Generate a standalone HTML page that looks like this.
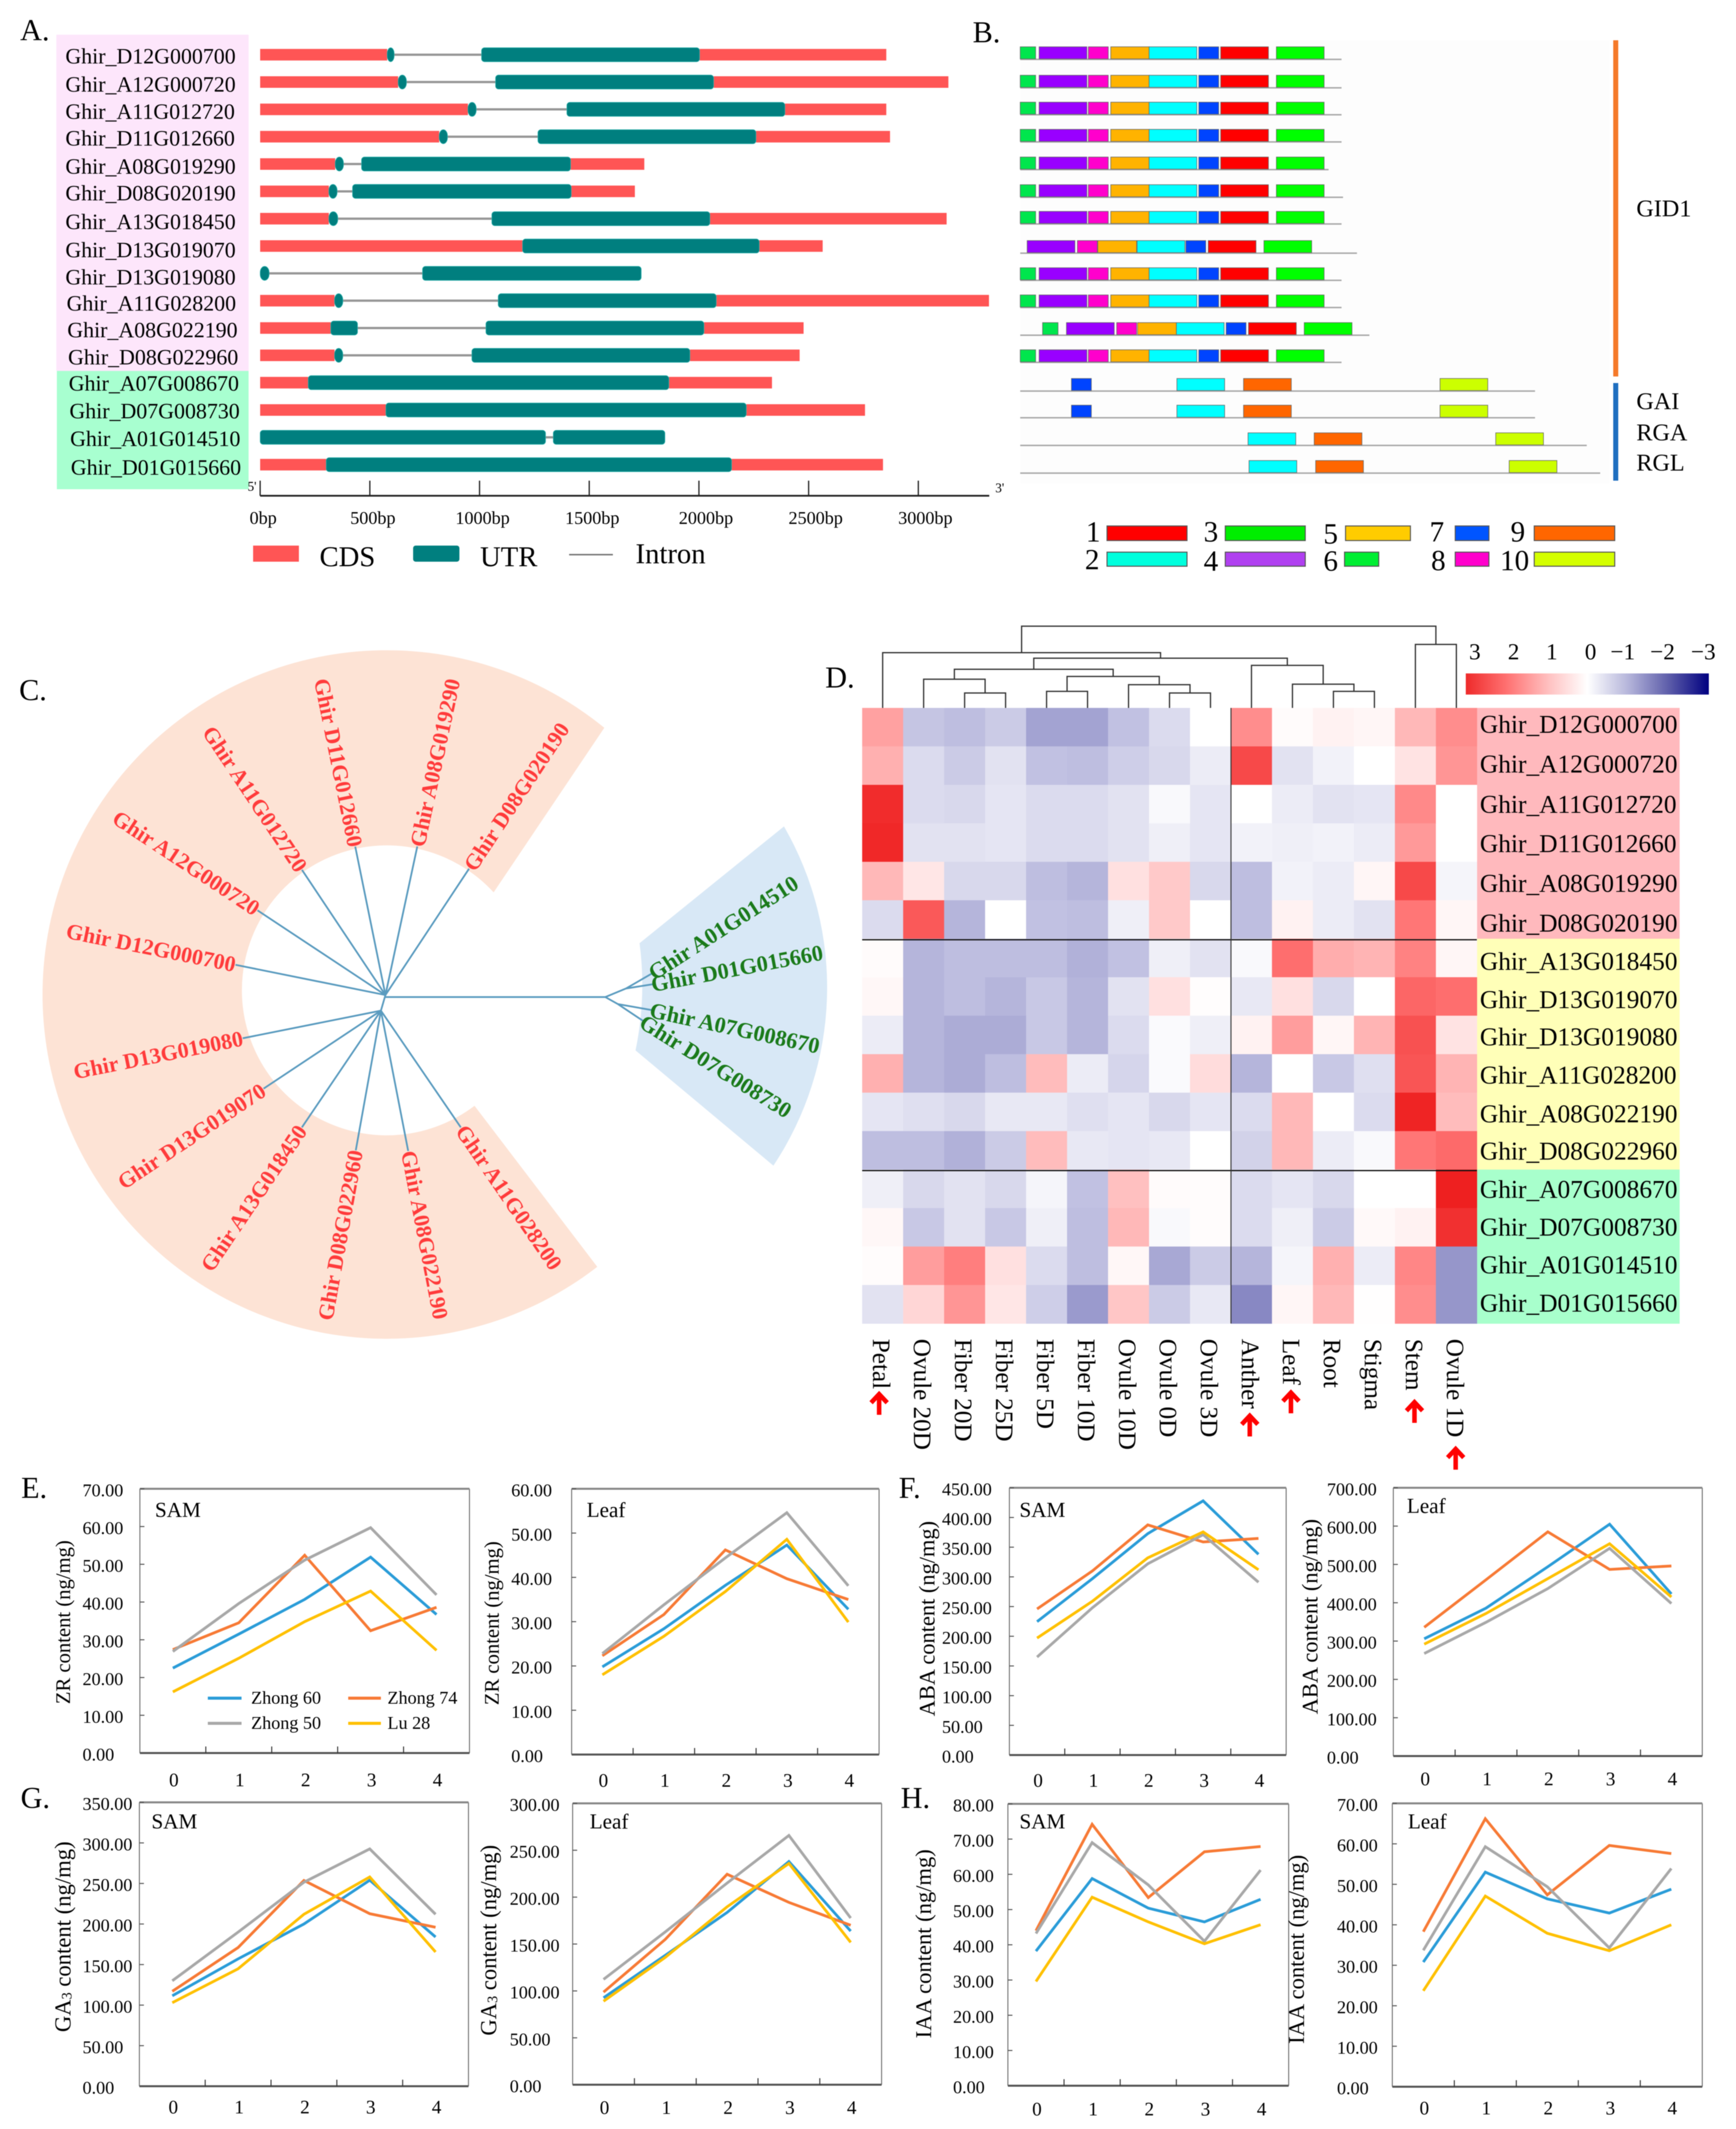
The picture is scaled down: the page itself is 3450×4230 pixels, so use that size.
<!DOCTYPE html>
<html lang="en">
<head>
<meta charset="utf-8">
<title>Gene family figure panels A-H</title>
<style>
html,body{margin:0;padding:0;background:#fff}
svg{display:block;font-family:"Liberation Serif","DejaVu Serif",serif;filter:blur(0.8px)}
</style>
</head>
<body>
<svg id="figure" xmlns="http://www.w3.org/2000/svg" width="3450" height="4230" viewBox="0 0 3450 4230">
  <rect x="0" y="0" width="3450" height="4230" fill="#ffffff"/>

  <text x="40" y="80" font-size="60">A.</text>
  <text x="1933" y="84" font-size="60">B.</text>
  <text x="38" y="1391" font-size="60">C.</text>
  <text x="1640" y="1366" font-size="60">D.</text>
  <text x="42" y="2976" font-size="60">E.</text>
  <text x="1786" y="2976" font-size="60">F.</text>
  <text x="41" y="3592" font-size="60">G.</text>
  <text x="1790" y="3592" font-size="60">H.</text>

  <rect x="112" y="69" width="382" height="668" fill="#fde6fb"/>
  <rect x="113" y="737" width="381" height="235" fill="#a8ffd0"/>
  <g id="panelA"></g>

  <line x1="517" y1="985" x2="1966" y2="985" stroke="#222" stroke-width="3.5"/>
  <text x="492" y="975" font-size="26">5'</text>
  <text x="1978" y="978" font-size="26">3'</text>
  <rect x="503" y="1084" width="91" height="32" fill="#ff5555"/>
  <text x="635" y="1125" font-size="57">CDS</text>
  <rect x="821" y="1084" width="92" height="32" rx="5" fill="#007f7f"/>
  <text x="954" y="1125" font-size="57">UTR</text>
  <line x1="1131" y1="1102" x2="1218" y2="1102" stroke="#777" stroke-width="3"/>
  <text x="1263" y="1119" font-size="57">Intron</text>

  <rect x="2028" y="80" width="1170" height="880" fill="#fdfdfd"/>
  <g id="panelB"></g>
  <rect x="3206" y="80" width="10" height="668" fill="#f57a2a"/>
  <rect x="3206" y="761" width="10" height="194" fill="#1f6fc0"/>
  <text x="3252" y="430" font-size="48">GID1</text>
  <text x="3252" y="813" font-size="48">GAI</text>
  <text x="3252" y="875" font-size="48">RGA</text>
  <text x="3252" y="935" font-size="48">RGL</text>

  <g id="motifLegend">
    <text x="2158" y="1076" font-size="58">1</text>
    <rect x="2200" y="1045" width="159" height="29" fill="#ff0000" stroke="#555" stroke-width="2"/>
    <text x="2156" y="1131" font-size="58">2</text>
    <rect x="2200" y="1097" width="159" height="28" fill="#00ffdd" stroke="#555" stroke-width="2"/>
    <text x="2392" y="1076" font-size="58">3</text>
    <rect x="2435" y="1045" width="159" height="29" fill="#00ee00" stroke="#555" stroke-width="2"/>
    <text x="2392" y="1134" font-size="58">4</text>
    <rect x="2435" y="1097" width="159" height="28" fill="#b040f0" stroke="#555" stroke-width="2"/>
    <text x="2630" y="1080" font-size="58">5</text>
    <rect x="2674" y="1045" width="129" height="29" fill="#ffcc00" stroke="#555" stroke-width="2"/>
    <text x="2630" y="1134" font-size="58">6</text>
    <rect x="2672" y="1097" width="68" height="28" fill="#00ee33" stroke="#555" stroke-width="2"/>
    <text x="2841" y="1076" font-size="58">7</text>
    <rect x="2892" y="1045" width="67" height="29" fill="#0055ff" stroke="#555" stroke-width="2"/>
    <text x="2844" y="1133" font-size="58">8</text>
    <rect x="2892" y="1097" width="67" height="28" fill="#ff00cc" stroke="#555" stroke-width="2"/>
    <text x="3002" y="1076" font-size="58">9</text>
    <rect x="3049" y="1045" width="160" height="29" fill="#ff6600" stroke="#555" stroke-width="2"/>
    <text x="2981" y="1133" font-size="58">10</text>
    <rect x="3049" y="1097" width="160" height="28" fill="#d4ff00" stroke="#555" stroke-width="2"/>
  </g>

  <path d="M1201 1446 A684 684 0 1 0 1187 2517 L943 2197 A288 288 0 0 1 481 1980 A288 288 0 0 1 981 1773 Z" fill="#fde3d5"/>
  <path d="M1558 1642 A640 640 0 0 1 1537 2316 L1263 2087 Q1285 1981 1271 1874 Z" fill="#d8e8f6"/>
  <g id="panelC"></g>

  <g id="panelD"></g>
  <defs>
    <linearGradient id="heatScale" x1="0" x2="1" y1="0" y2="0">
      <stop offset="0" stop-color="#ee2a2a"/>
      <stop offset="0.17" stop-color="#ff7272"/>
      <stop offset="0.34" stop-color="#ffc0c0"/>
      <stop offset="0.5" stop-color="#ffffff"/>
      <stop offset="0.67" stop-color="#b4b4da"/>
      <stop offset="0.84" stop-color="#5a5aa8"/>
      <stop offset="1" stop-color="#000080"/>
    </linearGradient>
  </defs>
  <rect x="2913" y="1338" width="483" height="42" fill="url(#heatScale)"/>
  <text x="2931" y="1310" font-size="46" text-anchor="middle">3</text>
  <text x="3008" y="1310" font-size="46" text-anchor="middle">2</text>
  <text x="3084" y="1310" font-size="46" text-anchor="middle">1</text>
  <text x="3161" y="1310" font-size="46" text-anchor="middle">0</text>
  <text x="3225" y="1310" font-size="46" text-anchor="middle">−1</text>
  <text x="3304" y="1310" font-size="46" text-anchor="middle">−2</text>
  <text x="3385" y="1310" font-size="46" text-anchor="middle">−3</text>

  <g id="panelCharts"></g>

  <g>
    <line x1="413" y1="3374" x2="480" y2="3374" stroke="#2a9cd8" stroke-width="6"/>
    <text x="499" y="3385" font-size="36">Zhong 60</text>
    <line x1="692" y1="3374" x2="757" y2="3374" stroke="#f77a35" stroke-width="6"/>
    <text x="770" y="3385" font-size="36">Zhong 74</text>
    <line x1="413" y1="3424" x2="480" y2="3424" stroke="#a8a8a8" stroke-width="6"/>
    <text x="499" y="3435" font-size="36">Zhong 50</text>
    <line x1="692" y1="3424" x2="757" y2="3424" stroke="#ffc000" stroke-width="6"/>
    <text x="770" y="3435" font-size="36">Lu 28</text>
  </g>
</svg>

<script>
/* ---------- Panel A data: gene structures in base pairs ---------- */
const geneNames = ['Ghir_D12G000700','Ghir_A12G000720','Ghir_A11G012720','Ghir_D11G012660','Ghir_A08G019290','Ghir_D08G020190','Ghir_A13G018450','Ghir_D13G019070','Ghir_D13G019080','Ghir_A11G028200','Ghir_A08G022190','Ghir_D08G022960','Ghir_A07G008670','Ghir_D07G008730','Ghir_A01G014510','Ghir_D01G015660'];
const cdsSpans = [[[0,579],[2003,2854]],[[0,629],[2067,3137]],[[0,947],[2392,2854]],[[0,816],[2260,2871]],[[0,342],[1415,1751]],[[0,313],[1418,1708]],[[0,313],[2050,3129]],[[0,1196],[2275,2564]],[],[[0,339],[2079,3322]],[[0,322],[2023,2477]],[[0,339],[1959,2459]],[[0,219],[1863,2333]],[[0,573],[2216,2757]],[],[[0,301],[2149,2839]]];
const utrSpans = [[[579,611],[1009,2003]],[[629,667],[1073,2067]],[[947,985],[1398,2392]],[[816,854],[1266,2260]],[[342,380],[462,1415]],[[313,351],[421,1418]],[[313,354],[1056,2050]],[[1196,2275]],[[0,41],[740,1737]],[[339,377],[1085,2079]],[[322,444],[1029,2023]],[[339,377],[965,1959]],[[219,1863]],[[573,2216]],[[0,1301],[1336,1845]],[[301,2149]]];
const geneAxisTicks = [0,500,1000,1500,2000,2500,3000];

/* ---------- Panel B data: motifs in residue-like units ---------- */
const motifLengths = {1:96,2:96,3:96,4:96,5:78,6:31,7:40,8:40,9:96,10:96};
const proteinLengths = [646,646,646,646,620,649,646,677,646,646,702,646,1035,1035,1139,1166];
const motifsStandard = [[6,0],[4,38],[8,137],[5,182],[2,259],[7,359],[1,403],[3,515]];
const motifsRow8 = [[4,14],[8,115],[5,156],[2,235],[7,333],[1,378],[3,490]];
const motifsRow11 = [[6,45],[4,93],[8,194],[5,236],[2,314],[7,414],[1,459],[3,571]];
const motifsGai = [[7,103],[2,315],[9,449],[10,844]];
const motifsRga = [[2,458],[9,591],[10,956]];
const motifsRgl = [[2,460],[9,594],[10,983]];
const motifRows = [motifsStandard,motifsStandard,motifsStandard,motifsStandard,motifsStandard,motifsStandard,motifsStandard,motifsRow8,motifsStandard,motifsStandard,motifsRow11,motifsStandard,motifsGai,motifsGai,motifsRga,motifsRgl];

/* ---------- Panel C data: tree leaves (polar angle deg, branch length) ---------- */
const upperLeafNames = ['Ghir D08G020190','Ghir A08G019290','Ghir D11G012660','Ghir A11G012720','Ghir A12G000720','Ghir D12G000700'];
const upperLeafAngles = [-56.5,-77.9,-101.5,-123.7,-146.5,-168.6];
const upperLeafLengths = [301,302,301,299,305,304];
const lowerLeafNames = ['Ghir D13G019080','Ghir D13G019070','Ghir A13G018450','Ghir D08G022960','Ghir A08G022190','Ghir A11G028200'];
const lowerLeafAngles = [168.7,146.4,124.1,100.2,79,55.6];
const lowerLeafLengths = [280,280,280,282,284,281];
const greenLeafNames = ['Ghir A01G014510','Ghir D01G015660','Ghir A07G008670','Ghir D07G008730'];
const greenLeafAngles = [-30,-9,10,33.7];
const greenLeafLengths = [60,55,69,61];
const greenLabelAngles = [-32.7,-10.7,12.2,32];

/* ---------- Panel D data: heatmap z-scores ---------- */
const tissues = ['Petal','Ovule 20D','Fiber 20D','Fiber 25D','Fiber 5D','Fiber 10D','Ovule 10D','Ovule 0D','Ovule 3D','Anther','Leaf','Root','Stigma','Stem','Ovule 1D'];
const heatRows = ['Ghir_D12G000700','Ghir_A12G000720','Ghir_A11G012720','Ghir_D11G012660','Ghir_A08G019290','Ghir_D08G020190','Ghir_A13G018450','Ghir_D13G019070','Ghir_D13G019080','Ghir_A11G028200','Ghir_A08G022190','Ghir_D08G022960','Ghir_A07G008670','Ghir_D07G008730','Ghir_A01G014510','Ghir_D01G015660'];
const heatValues = [
[1.4,-.9,-1,-.8,-1.3,-1.3,-.95,-.55,0,1.65,.07,.2,.15,1.1,1.65],
[1.2,-.55,-.8,-.45,-.95,-1,-.75,-.6,-.3,2.5,-.45,-.2,0,.45,1.55],
[2.85,-.55,-.6,-.4,-.55,-.55,-.45,-.1,-.4,0,-.3,-.45,-.4,1.7,0],
[2.9,-.45,-.45,-.4,-.55,-.55,-.45,-.25,-.4,-.2,-.25,-.2,-.3,1.5,0],
[1.1,.4,-.6,-.6,-1,-1.1,.5,.85,-.6,-1,-.2,-.3,.15,2.5,-.15],
[-.55,2.3,-1.1,0,-.95,-1,-.25,.85,0,-1,.2,-.3,-.45,1.95,.15],
[.07,-1.1,-1,-1,-1,-1.15,-.95,-.25,-.45,-.1,2.05,1.25,1.15,1.8,.15],
[.12,-1.1,-1,-1.1,-.85,-1.1,-.45,.5,.03,-.35,.5,-.6,0,2.15,2.05],
[-.3,-1.1,-1.2,-1.2,-.85,-1.1,-.55,-.07,-.25,.2,1.45,.15,1.15,2.4,.45],
[1.2,-1.1,-1.2,-1,1.05,-.3,-.65,-.07,.55,-1.1,0,-.85,-.5,2.35,1.15],
[-.4,-.5,-.6,-.35,-.35,-.5,-.4,-.6,-.4,-.55,1.1,0,-.55,2.95,1.05],
[-1,-1,-1.15,-.8,1.05,-.35,-.4,-.35,0,-.7,1.1,-.3,-.1,1.95,2.1],
[-.25,-.6,-.45,-.6,-.15,-.95,1,.06,.05,-.55,-.4,-.6,0,0,3],
[.12,-.85,-.45,-.85,-.25,-1,1.1,-.1,.05,-.55,-.25,-.8,.1,.2,2.8],
[.05,1.45,1.85,.5,-.55,-1,.12,-1.25,-.8,-1.1,-.15,1.2,-.3,1.75,-1.45],
[-.45,.65,1.55,.4,-.75,-1.4,.9,-.8,-.35,-1.6,.15,1.1,.02,1.65,-1.45]];
const highlightedTissues = {Petal:2767,Anther:2810,Leaf:2764,Stem:2783,'Ovule 1D':2876};
/* dendrogram: [mergeHeight, left, right]; numbers are leaf indices */
const dendrogram = [148,[100,0,[90,[70,[52,1,[27,2,3]],[57,[30,4,5],[42,6,[27,7,8]]]],[77,9,[43,10,[30,11,12]]]]],[115,13,14]];

/* ---------- Panels E-H data ---------- */
const timePoints = [0,1,2,3,4];
const zrSamTicks = [0,10,20,30,40,50,60,70];
const zrSamZhong60 = [22.5,31.5,40.7,51.9,36.7];
const zrSamZhong74 = [27.4,34.5,52.4,32.4,38.6];
const zrSamZhong50 = [26.9,39.6,51.1,59.7,41.9];
const zrSamLu28 = [16.2,25.1,34.8,42.9,27.2];
const zrLeafTicks = [0,10,20,30,40,50,60];
const zrLeafZhong60 = [19.8,28.4,38.2,47.3,32.8];
const zrLeafZhong74 = [22.3,31.6,46.2,39.7,35];
const zrLeafZhong50 = [22.8,33.8,44.4,54.6,38.1];
const zrLeafLu28 = [18,26.7,36.8,48.6,29.9];
const abaSamTicks = [0,50,100,150,200,250,300,350,400,450];
const abaSamZhong60 = [224.6,297,372.8,428,338];
const abaSamZhong74 = [246,310,387.5,358.8,364.7];
const abaSamZhong50 = [165,248,322,371,291];
const abaSamLu28 = [197,259,332,375.7,312];
const abaLeafTicks = [0,100,200,300,400,500,600,700];
const abaLeafZhong60 = [306,386,494,605,423];
const abaLeafZhong74 = [336,460,585,487,496];
const abaLeafZhong50 = [267.5,349,437,542,398];
const abaLeafLu28 = [292,372,463,554,415];
const gaSamTicks = [0,50,100,150,200,250,300,350];
const gaSamZhong60 = [111.5,157,200,254,184];
const gaSamZhong74 = [117,171,253.7,212.7,196];
const gaSamZhong50 = [130,190,251.5,292.6,212];
const gaSamLu28 = [103,144.8,212,258,165.5];
const gaLeafTicks = [0,50,100,150,200,250,300];
const gaLeafZhong60 = [92.7,138,183.7,238,163.8];
const gaLeafZhong74 = [98.7,155,224.4,194.4,170];
const gaLeafZhong50 = [112.3,163,215,265.8,177.7];
const gaLeafLu28 = [89,135.8,189.7,235.9,151.8];
const iaaSamTicks = [0,10,20,30,40,50,60,70,80];
const iaaSamZhong60 = [38.2,58.8,50.4,46.5,52.9];
const iaaSamZhong74 = [44,74.2,53.4,66.4,67.9];
const iaaSamZhong50 = [43.2,69,57,41,61.2];
const iaaSamLu28 = [29.6,53.5,46.5,40.3,45.7];
const iaaLeafTicks = [0,10,20,30,40,50,60,70];
const iaaLeafZhong60 = [30.8,53,46.4,42.9,48.8];
const iaaLeafZhong74 = [38.3,66.2,47.4,59.6,57.6];
const iaaLeafZhong50 = [33.7,59.3,49.4,34.3,53.9];
const iaaLeafLu28 = [23.7,47.1,37.9,33.6,40];

/* ---------- helpers ---------- */
const NS = 'http://www.w3.org/2000/svg';
function mk(parent, tag, attrs, txt) {
  const el = document.createElementNS(NS, tag);
  for (const k in attrs) el.setAttribute(k, attrs[k]);
  if (txt !== undefined) el.textContent = txt;
  parent.appendChild(el);
  return el;
}
function slug(s) { return String(s).toLowerCase().replace(/[^a-z0-9]+/g, '-'); }

/* ---------- Panel A ---------- */
(function () {
  const g = document.getElementById('panelA');
  const x = bp => 517 + bp * 218 / 500;
  const rowY = i => 108.7 + i * 54.3;
  const labelCentres = [111,167,221,274,330,383,440,496,550,602,655,709,761,816,871,928];
  geneNames.forEach((name, i) => {
    const y = rowY(i);
    const label = mk(g, 'text', {x: i < 9 ? 130 : 131 + (i - 8) * 1.4, y: labelCentres[i] + 15, 'font-size': 43.5}, name);
    
    
    const utr = utrSpans[i];
    for (let k = 0; k < utr.length - 1; k++) {
      const intron = mk(g, 'line', {x1: x(utr[k][1]), x2: x(utr[k + 1][0]), y1: y, y2: y, stroke: '#969696', 'stroke-width': 4.5});
      
      
    }
    cdsSpans[i].forEach(s => {
      const r = mk(g, 'rect', {x: x(s[0]), y: y - 11.5, width: x(s[1]) - x(s[0]), height: 23, fill: '#ff5555'});
      
      
    });
    utr.forEach(s => {
      const w = x(s[1]) - x(s[0]);
      const r = mk(g, 'rect', {x: x(s[0]), y: y - 14, width: w, height: 28, rx: w < 20 ? w / 2 : 6, ry: w < 20 ? 12 : 6, fill: '#007f7f', stroke: '#30b5b0', 'stroke-width': 1});
      
      
    });
  });
  geneAxisTicks.forEach(t => {
    const tick = mk(g, 'line', {x1: x(t), x2: x(t), y1: 955, y2: 985, stroke: '#222', 'stroke-width': 2.5});
    
    
    const lab = mk(g, 'text', {x: x(t) + (t >= 2000 ? 14 : 6), y: 1041, 'font-size': 36, 'text-anchor': 'middle'}, t + 'bp');
    
    
  });
})();

/* ---------- Panel B ---------- */
(function () {
  const g = document.getElementById('panelB');
  const colors = {1:'#ff0000',2:'#00ffff',3:'#00ff00',4:'#9900ff',5:'#ffb300',6:'#00e64d',7:'#0044ff',8:'#ff00cc',9:'#ff6600',10:'#ccff00'};
  const x = u => 2027.5 + u * 0.9885;
  const rowYs = [118,174.5,228,282,337,392,445,503,557,611,666,720,777,830,885,940];
  proteinLengths.forEach((len, i) => {
    const y = rowYs[i];
    const line = mk(g, 'line', {x1: x(0), x2: x(len), y1: y, y2: y, stroke: '#aaaaaa', 'stroke-width': 3});
    
    
    motifRows[i].forEach(m => {
      const r = mk(g, 'rect', {x: x(m[1]), y: y - 25, width: motifLengths[m[0]] * 0.9885, height: 24, fill: colors[m[0]], stroke: '#666', 'stroke-width': 1.2});
      
      
    });
  });
})();

/* ---------- Panel C ---------- */
(function () {
  const g = document.getElementById('panelC');
  const blue = '#5a9bbf';
  function branch(x1, y1, x2, y2, name) {
    const l = mk(g, 'line', {x1: x1, y1: y1, x2: x2, y2: y2, stroke: blue, 'stroke-width': 3.5});
    
    
  }
  function polar(c, deg, r) {
    const a = deg * Math.PI / 180;
    return [c[0] + r * Math.cos(a), c[1] + r * Math.sin(a)];
  }
  function leaves(node, names, angles, lengths) {
    names.forEach((name, i) => {
      const p = polar(node, angles[i], lengths[i]);
      branch(node[0], node[1], p[0], p[1], 'tree-branch');
      const left = Math.abs(angles[i]) > 90;
      const rot = left ? angles[i] + 180 : angles[i];
      const t = mk(g, 'text', {x: p[0], y: p[1], 'font-size': 44, 'font-weight': 'bold', fill: '#ff3b3b', 'text-anchor': left ? 'end' : 'start', 'dominant-baseline': 'central', transform: 'rotate(' + rot + ' ' + p[0] + ' ' + p[1] + ')'}, name);
      
      
    });
  }
  const nodeTop = [766, 1977], nodeLow = [757, 2008], trunkEnd = [1203, 1981];
  branch(nodeTop[0], nodeTop[1], nodeLow[0], nodeLow[1], 'tree-inner-branch');
  branch(766, 1981, trunkEnd[0], trunkEnd[1], 'tree-trunk');
  leaves(nodeTop, upperLeafNames, upperLeafAngles, upperLeafLengths);
  leaves(nodeLow, lowerLeafNames, lowerLeafAngles, lowerLeafLengths);
  const subUp = [1244, 1964], subDown = [1228, 1995];
  branch(trunkEnd[0], trunkEnd[1], subUp[0], subUp[1], 'tree-inner-branch');
  branch(trunkEnd[0], trunkEnd[1], subDown[0], subDown[1], 'tree-inner-branch');
  greenLeafNames.forEach((name, i) => {
    const node = i < 2 ? subUp : subDown;
    const p = polar(node, greenLeafAngles[i], greenLeafLengths[i]);
    branch(node[0], node[1], p[0], p[1], 'tree-branch');
    const s = polar(p, greenLabelAngles[i], -4);
    const t = mk(g, 'text', {x: s[0], y: s[1], 'font-size': 44.5, 'font-weight': 'bold', fill: '#1a7a1a', 'dominant-baseline': 'central', transform: 'rotate(' + greenLabelAngles[i] + ' ' + s[0] + ' ' + s[1] + ')'}, name);
    
    
  });
})();

/* ---------- Panel D ---------- */
(function () {
  const g = document.getElementById('panelD');
  const L = 1713.4, T = 1406.5, cw = 81.44, ch = 76.44;
  const rowLabelCentres = [1439,1518,1598,1676,1755,1834,1910,1986,2060,2136,2213,2287,2363,2438,2513,2589];
  const posStops = [[255,255,255],[255,192,192],[255,114,114],[238,32,32]];
  const negStops = [[255,255,255],[190,190,224],[100,100,176],[0,0,128]];
  function color(v) {
    const s = v >= 0 ? posStops : negStops;
    const a = Math.min(Math.abs(v), 3), i = Math.min(Math.floor(a), 2), f = a - i;
    const c = [0, 1, 2].map(k => Math.round(s[i][k] + (s[i + 1][k] - s[i][k]) * f));
    return 'rgb(' + c.join(',') + ')';
  }
  const bandColors = ['#ffb9bd', '#ffffb8', '#a8ffcc'];
  heatRows.forEach((name, r) => {
    const band = r < 6 ? 0 : r < 12 ? 1 : 2;
    const bg = mk(g, 'rect', {x: L + 15 * cw, y: T + r * ch, width: 403, height: ch + 0.5, fill: bandColors[band]});
    
    
    const lab = mk(g, 'text', {x: 2941, y: rowLabelCentres[r] + 17, 'font-size': 50.5}, name);
    
    
    heatValues[r].forEach((v, c) => {
      const cell = mk(g, 'rect', {x: L + c * cw, y: T + r * ch, width: cw + 0.5, height: ch + 0.5, fill: color(v)});
      
      
    });
  });
  [6, 12].forEach(r => {
    const l = mk(g, 'line', {x1: L, x2: L + 15 * cw, y1: T + r * ch + 2, y2: T + r * ch + 2, stroke: '#111', 'stroke-width': 2.5});
    
    
  });
  const v = mk(g, 'line', {x1: L + 9 * cw, x2: L + 9 * cw, y1: T, y2: T + 16 * ch, stroke: '#333', 'stroke-width': 2});
  
  
  tissues.forEach((name, c) => {
    const x = L + (c + 0.5) * cw - 2;
    const t = mk(g, 'text', {x: x, y: 2660, 'font-size': 50, 'dominant-baseline': 'central', transform: 'rotate(90 ' + x + ' 2660)'}, name);
    
    
    if (highlightedTissues[name]) {
      const top = highlightedTissues[name], ax = x - 5 + c * 0.4;
      const a = mk(g, 'path', {d: 'M' + ax + ' ' + (top + 44) + ' V' + (top + 4) + ' M' + (ax - 16) + ' ' + (top + 20) + ' L' + ax + ' ' + (top + 3) + ' L' + (ax + 16) + ' ' + (top + 20), fill: 'none', stroke: '#ff0000', 'stroke-width': 9});
      
      
    }
  });
  const k = 1.0969;
  function walk(n) {
    if (typeof n === 'number') return {x: L + (n + 0.5) * cw, h: 0};
    const a = walk(n[1]), b = walk(n[2]);
    const yTop = T - n[0] * k;
    const p = mk(g, 'path', {d: 'M' + a.x + ' ' + (T - a.h * k) + ' V' + yTop + ' H' + b.x + ' V' + (T - b.h * k), fill: 'none', stroke: '#333', 'stroke-width': 2.5});
    
    
    return {x: (a.x + b.x) / 2, h: n[0]};
  }
  walk(dendrogram);
})();

/* ---------- Panels E-H ---------- */
const seriesColors = ['#2a9cd8', '#f77a35', '#a8a8a8', '#ffc000'];
const seriesNames = ['zhong-60', 'zhong-74', 'zhong-50', 'lu-28'];
function lineChart(c) {
  const root = document.getElementById('panelCharts');
  const g = mk(root, 'g', {});
  
  
  const yMax = c.ticks[c.ticks.length - 1];
  const y = v => c.b - (c.b - c.t) * v / yMax;
  const band = (c.r - c.l) / c.cats.length;
  const x = i => c.l + (i + 0.5) * band;

  const left = mk(g, 'path', {d: 'M' + c.l + ' ' + c.t + ' V' + c.b + ' M' + c.r + ' ' + c.t + ' V' + c.b, fill: 'none', stroke: '#666', 'stroke-width': 1.8});
  
  
  const top = mk(g, 'line', {x1: c.l, x2: c.r, y1: c.t, y2: c.t, stroke: '#888', 'stroke-width': 4});
  
  
  const bottom = mk(g, 'line', {x1: c.l, x2: c.r, y1: c.b, y2: c.b, stroke: '#555', 'stroke-width': 4});
  
  

  c.ticks.forEach(t => {
    const tk = mk(g, 'line', {x1: c.l, x2: c.l + 9, y1: y(t), y2: y(t), stroke: '#555', 'stroke-width': 2});
    
    
    const lab = mk(g, 'text', {x: c.labelX, y: y(t) + 15, 'font-size': 36}, t.toFixed(2));
    
    
  });
  c.cats.forEach((cat, i) => {
    if (i > 0) {
      const tk = mk(g, 'line', {x1: c.l + i * band, x2: c.l + i * band, y1: c.b - 13, y2: c.b, stroke: '#333', 'stroke-width': 2});
      
      
    }
    const lab = mk(g, 'text', {x: x(i) + 2, y: c.xLabelY + 13, 'font-size': 38, 'text-anchor': 'middle'}, cat);
    
    
  });
  c.series.forEach((vals, s) => {
    const pts = vals.map((v, i) => x(i) + ',' + y(v)).join(' ');
    const line = mk(g, 'polyline', {points: pts, fill: 'none', stroke: seriesColors[s], 'stroke-width': 5.5, 'stroke-linejoin': 'miter'});
    
    
  });
  const title = mk(g, 'text', {x: c.titleX, y: c.titleY, 'font-size': c.titleSize, 'text-anchor': 'middle', 'dominant-baseline': 'central', transform: 'rotate(-90 ' + c.titleX + ' ' + c.titleY + ')'});
  title.innerHTML = c.title;
  
  
  const tag = mk(g, 'text', {x: c.tagX, y: c.tagY, 'font-size': 42}, c.tag);
  
  
}
const gaTitle = 'GA<tspan dy="8" font-size="28">3</tspan><tspan dy="-8"> content (ng/mg)</tspan>';
lineChart({name:'zr-sam-chart', l:278, r:933, t:2958, b:3483, ticks:zrSamTicks, cats:timePoints, series:[zrSamZhong60,zrSamZhong74,zrSamZhong50,zrSamLu28], labelX:164, xLabelY:3536, title:'ZR content (ng/mg)', titleX:125, titleY:3223, titleSize:41, tag:'SAM', tagX:308, tagY:3014});
lineChart({name:'zr-leaf-chart', l:1136, r:1747, t:2958, b:3486, ticks:zrLeafTicks, cats:timePoints, series:[zrLeafZhong60,zrLeafZhong74,zrLeafZhong50,zrLeafLu28], labelX:1016, xLabelY:3537, title:'ZR content (ng/mg)', titleX:977, titleY:3225, titleSize:41, tag:'Leaf', tagX:1166, tagY:3014});
lineChart({name:'aba-sam-chart', l:2006, r:2556, t:2956, b:3487, ticks:abaSamTicks, cats:timePoints, series:[abaSamZhong60,abaSamZhong74,abaSamZhong50,abaSamLu28], labelX:1872, xLabelY:3537, title:'ABA content (ng/mg)', titleX:1842, titleY:3216, titleSize:44.5, tag:'SAM', tagX:2026, tagY:3014});
lineChart({name:'aba-leaf-chart', l:2769, r:3383, t:2956, b:3489, ticks:abaLeafTicks, cats:timePoints, series:[abaLeafZhong60,abaLeafZhong74,abaLeafZhong50,abaLeafLu28], labelX:2637, xLabelY:3534, title:'ABA content (ng/mg)', titleX:2603, titleY:3212, titleSize:44.5, tag:'Leaf', tagX:2796, tagY:3006});
lineChart({name:'ga3-sam-chart', l:277, r:931, t:3581, b:4145, ticks:gaSamTicks, cats:timePoints, series:[gaSamZhong60,gaSamZhong74,gaSamZhong50,gaSamLu28], labelX:164, xLabelY:4186, title:gaTitle, titleX:125, titleY:3848, titleSize:45, tag:'SAM', tagX:301, tagY:3633});
lineChart({name:'ga3-leaf-chart', l:1138, r:1752, t:3583, b:4142, ticks:gaLeafTicks, cats:timePoints, series:[gaLeafZhong60,gaLeafZhong74,gaLeafZhong50,gaLeafLu28], labelX:1013, xLabelY:4187, title:gaTitle, titleX:971, titleY:3855, titleSize:45, tag:'Leaf', tagX:1172, tagY:3633});
lineChart({name:'iaa-sam-chart', l:2003, r:2561, t:3584, b:4144, ticks:iaaSamTicks, cats:timePoints, series:[iaaSamZhong60,iaaSamZhong74,iaaSamZhong50,iaaSamLu28], labelX:1894, xLabelY:4190, title:'IAA content (ng/mg)', titleX:1835, titleY:3862, titleSize:44.8, tag:'SAM', tagX:2026, tagY:3633});
lineChart({name:'iaa-leaf-chart', l:2767, r:3383, t:3583, b:4146, ticks:iaaLeafTicks, cats:timePoints, series:[iaaLeafZhong60,iaaLeafZhong74,iaaLeafZhong50,iaaLeafLu28], labelX:2657, xLabelY:4188, title:'IAA content (ng/mg)', titleX:2576, titleY:3873, titleSize:44.8, tag:'Leaf', tagX:2798, tagY:3633});
</script>
</body>
</html>
